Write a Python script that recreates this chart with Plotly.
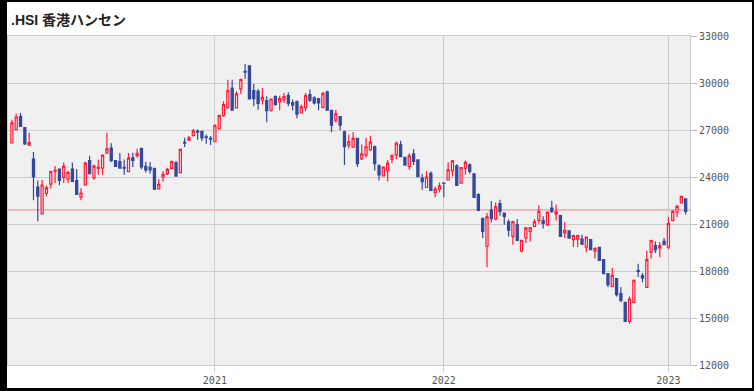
import pandas as pd
import plotly.graph_objects as go

# Weekly candles (week ending Friday), .HSI
dates = [d.strftime("%Y-%m-%d") for d in pd.date_range("2020-02-07", periods=157, freq="7D")]

opens = [26170, 27020, 27870, 27150, 26040, 25150, 23360, 21640, 22960, 23550,
         24380, 24510, 23980, 23870, 24510, 23770, 22720, 23490, 25040, 23940,
         24550, 24570, 25530, 25850, 25040, 24980, 24620, 24340, 25230, 25360,
         25820, 24680, 24620, 24550, 23240, 24000, 24210, 24550, 24910, 24280,
         26210, 26350, 26650, 26930, 26910, 26570, 26460, 26250, 27070, 27920,
         28410, 29680, 28410, 29620, 30740, 31100, 29510, 29470, 28900, 28880,
         28260, 29130, 28790, 28920, 29190, 28750, 28810, 28090, 28410, 29260,
         29050, 29000, 28450, 29430, 28260, 27630, 27860, 26880, 26040, 25910,
         26460, 25150, 25400, 25740, 25940, 24710, 24070, 24410, 25130, 25410,
         26050, 25260, 24670, 25470, 25090, 23930, 23330, 24240, 23010, 23230,
         23610, 23820, 24390, 24710, 23610, 24560, 24770, 24200, 22870, 21340,
         19580, 21890, 21320, 22300, 21700, 21130, 20210, 20960, 19260, 20110,
         20530, 20850, 21230, 21210, 20940, 22020, 21640, 21530, 20430, 20570,
         20000, 20040, 20040, 19530, 20000, 19260, 19510, 18720, 17830, 17020,
         17510, 16550, 16000, 14790, 16000, 18020, 17700, 16960, 19210, 19620,
         19470, 19890, 19530, 21230, 21750, 22340, 22600]

highs = [27660, 28040, 28090, 27150, 26830, 25600, 23770, 23810, 23450, 24400,
         24700, 24510, 24920, 24400, 24920, 24510, 23280, 24980, 25360, 24790,
         25110, 25400, 26830, 26150, 25040, 25530, 25110, 25530, 25550, 25800,
         25890, 24980, 24950, 24550, 23850, 24380, 24590, 25060, 25020, 25800,
         26500, 26610, 27070, 27030, 26910, 26710, 26610, 27390, 27990, 28830,
         30210, 30210, 29470, 30280, 31210, 31100, 29940, 29620, 29680, 29150,
         28980, 29220, 29190, 29360, 29410, 28940, 28880, 28620, 29360, 29580,
         29150, 29000, 29430, 29510, 28260, 28300, 27860, 26970, 26710, 26880,
         26500, 26080, 26500, 26640, 26000, 24820, 24670, 25090, 25470, 26260,
         26320, 25260, 25520, 25790, 25130, 24200, 24390, 24350, 23400, 23650,
         23650, 24940, 25090, 24820, 24600, 25050, 24880, 24240, 22970, 21420,
         21700, 22470, 22380, 22550, 21700, 21280, 21210, 21320, 20000, 20810,
         20810, 21320, 22190, 21490, 21810, 22490, 22230, 21530, 21130, 20570,
         20320, 20320, 20320, 20210, 20000, 19530, 19510, 18770, 17830, 18190,
         17510, 16980, 16000, 16380, 17450, 18470, 17870, 19300, 20000, 19890,
         19850, 20110, 21450, 21870, 22230, 22810, 22640]

lows = [26170, 27020, 27230, 26040, 26040, 22510, 21170, 21640, 22770, 23260,
        23620, 23470, 23620, 23620, 23720, 22890, 22510, 23490, 24210, 23830,
        24150, 24150, 25530, 24960, 24680, 24570, 24150, 24340, 24640, 25230,
        24490, 24280, 24230, 23170, 23240, 23700, 24130, 24490, 24060, 24280,
        25910, 26290, 26570, 26380, 26290, 26120, 26040, 26250, 27070, 27840,
        28410, 28260, 28410, 29300, 30250, 28980, 28520, 28300, 28620, 27500,
        28160, 28560, 28260, 28730, 28520, 28240, 27750, 28050, 28200, 28790,
        28620, 28260, 28370, 28260, 26860, 27460, 26990, 24760, 25820, 25910,
        24640, 25080, 25230, 25640, 24410, 23780, 24030, 23710, 24880, 25130,
        25300, 24710, 24460, 24770, 24030, 23180, 23330, 23140, 22700, 23010,
        22700, 23780, 24030, 23460, 23570, 24140, 24200, 22700, 21870, 20110,
        18240, 21100, 21230, 21530, 20960, 20210, 19680, 19960, 19190, 19790,
        19890, 20810, 21020, 20720, 20890, 21700, 21230, 20210, 20110, 20060,
        19530, 19530, 19640, 19190, 19360, 18790, 18680, 17830, 16980, 17020,
        16380, 16000, 14790, 14640, 16000, 17620, 17280, 16960, 18790, 19150,
        18870, 19640, 19400, 21170, 21450, 22340, 21600]

closes = [27450, 27830, 27230, 26110, 26190, 24000, 22770, 23490, 23300, 24340,
          24430, 23790, 24700, 24280, 23720, 22890, 22980, 24890, 24210, 24700,
          24620, 25400, 25790, 25040, 24680, 24570, 24570, 25210, 25060, 25510,
          24640, 24450, 24450, 23220, 23530, 24170, 24490, 24980, 24060, 25760,
          26160, 26500, 26950, 26860, 26500, 26520, 26420, 27270, 27920, 28620,
          29510, 28260, 29300, 30210, 30700, 28980, 29000, 28690, 29090, 28240,
          28980, 28620, 29000, 29130, 28710, 28580, 28010, 28470, 29190, 28900,
          28730, 28730, 29320, 28260, 27310, 28030, 27310, 25930, 26250, 26460,
          24850, 25480, 25930, 26230, 24860, 24140, 24630, 24880, 25350, 26150,
          25300, 24770, 25350, 24990, 24030, 23710, 23990, 23140, 23230, 23440,
          23590, 24460, 25030, 23460, 24600, 24940, 24350, 22700, 21870, 20530,
          21450, 21340, 22090, 21810, 21490, 20600, 21150, 19960, 19960, 20750,
          20750, 21130, 21810, 21040, 21750, 21810, 21770, 20210, 20600, 20090,
          20260, 20260, 19720, 20170, 19360, 19430, 18680, 17830, 17130, 17720,
          16490, 16130, 14790, 16210, 17400, 17980, 17550, 18720, 19940, 19360,
          19620, 19680, 21020, 21810, 22130, 22770, 21810]

ref_level = 21900
title_text = ".HSI 香港ハンセン"
year_ticks = [dates[47], dates[100], dates[152]]
year_labels = ["2021", "2022", "2023"]
y_ticks = list(range(12000, 33001, 3000))

W, H = 754, 391
L, R, T, B = 8, 64, 36, 26
pw, ph = W - L - R, H - T - B

def px_x(p):
    return (p - L) / pw

def px_y(p):
    return (H - B - p) / ph

fig = go.Figure(go.Candlestick(
    x=dates, open=opens, high=highs, low=lows, close=closes,
    increasing=dict(line=dict(color="#ff1a35", width=1.2), fillcolor="#f0f0f0"),
    decreasing=dict(line=dict(color="#33489c", width=1.2), fillcolor="#33489c"),
    whiskerwidth=0, showlegend=False, hoverinfo="x+y",
))

axis_font = dict(family="DejaVu Sans Mono, Liberation Mono, monospace", size=10, color="#555555")

fig.update_layout(
    width=W, height=H,
    margin=dict(l=L, r=R, t=T, b=B, pad=0),
    paper_bgcolor="white", plot_bgcolor="#f0f0f0",
    showlegend=False,
    xaxis=dict(
        type="category", range=[-0.9, 157.0], rangeslider=dict(visible=False),
        tickmode="array", tickvals=year_ticks, ticktext=year_labels,
        showgrid=True, gridcolor="#cccccc", gridwidth=1,
        ticks="outside", ticklen=6, tickcolor="#cccccc",
        showline=True, linecolor="#cccccc", mirror=True,
        tickfont=axis_font, automargin=False, fixedrange=True,
    ),
    yaxis=dict(
        side="right", range=[12000, 33000], tickmode="array", tickvals=y_ticks,
        tickformat="d", showgrid=True, gridcolor="#cccccc", gridwidth=1,
        ticks="outside", ticklen=6, tickcolor="#bbbbbb",
        showline=True, linecolor="#cccccc", mirror=True,
        tickfont=axis_font, automargin=False, zeroline=False, fixedrange=True,
    ),
    shapes=[
        dict(type="line", xref="paper", yref="y", x0=0, x1=1, y0=ref_level, y1=ref_level,
             line=dict(color="#ff8080", width=1), layer="below"),
        # black frame around the whole picture
        dict(type="rect", xref="paper", yref="paper", x0=px_x(-5), x1=px_x(7), y0=px_y(400), y1=px_y(-5),
             fillcolor="black", line=dict(width=0)),
        dict(type="rect", xref="paper", yref="paper", x0=px_x(-5), x1=px_x(760), y0=px_y(2), y1=px_y(-5),
             fillcolor="black", line=dict(width=0)),
        dict(type="rect", xref="paper", yref="paper", x0=px_x(752), x1=px_x(760), y0=px_y(400), y1=px_y(-5),
             fillcolor="black", line=dict(width=0)),
        dict(type="rect", xref="paper", yref="paper", x0=px_x(-5), x1=px_x(760), y0=px_y(400), y1=px_y(388),
             fillcolor="black", line=dict(width=0)),
    ],
    annotations=[
        dict(text="<b>" + title_text + "</b>", xref="paper", yref="paper",
             x=px_x(9), y=px_y(20), xanchor="left", yanchor="middle", showarrow=False,
             font=dict(family="Liberation Sans, Noto Sans CJK JP, sans-serif", size=14, color="#222222")),
    ],
)

fig.write_html(
    "out.html",
    config={"displayModeBar": False},
    post_script="document.body.style.margin='0';document.body.style.overflow='hidden';",
)
